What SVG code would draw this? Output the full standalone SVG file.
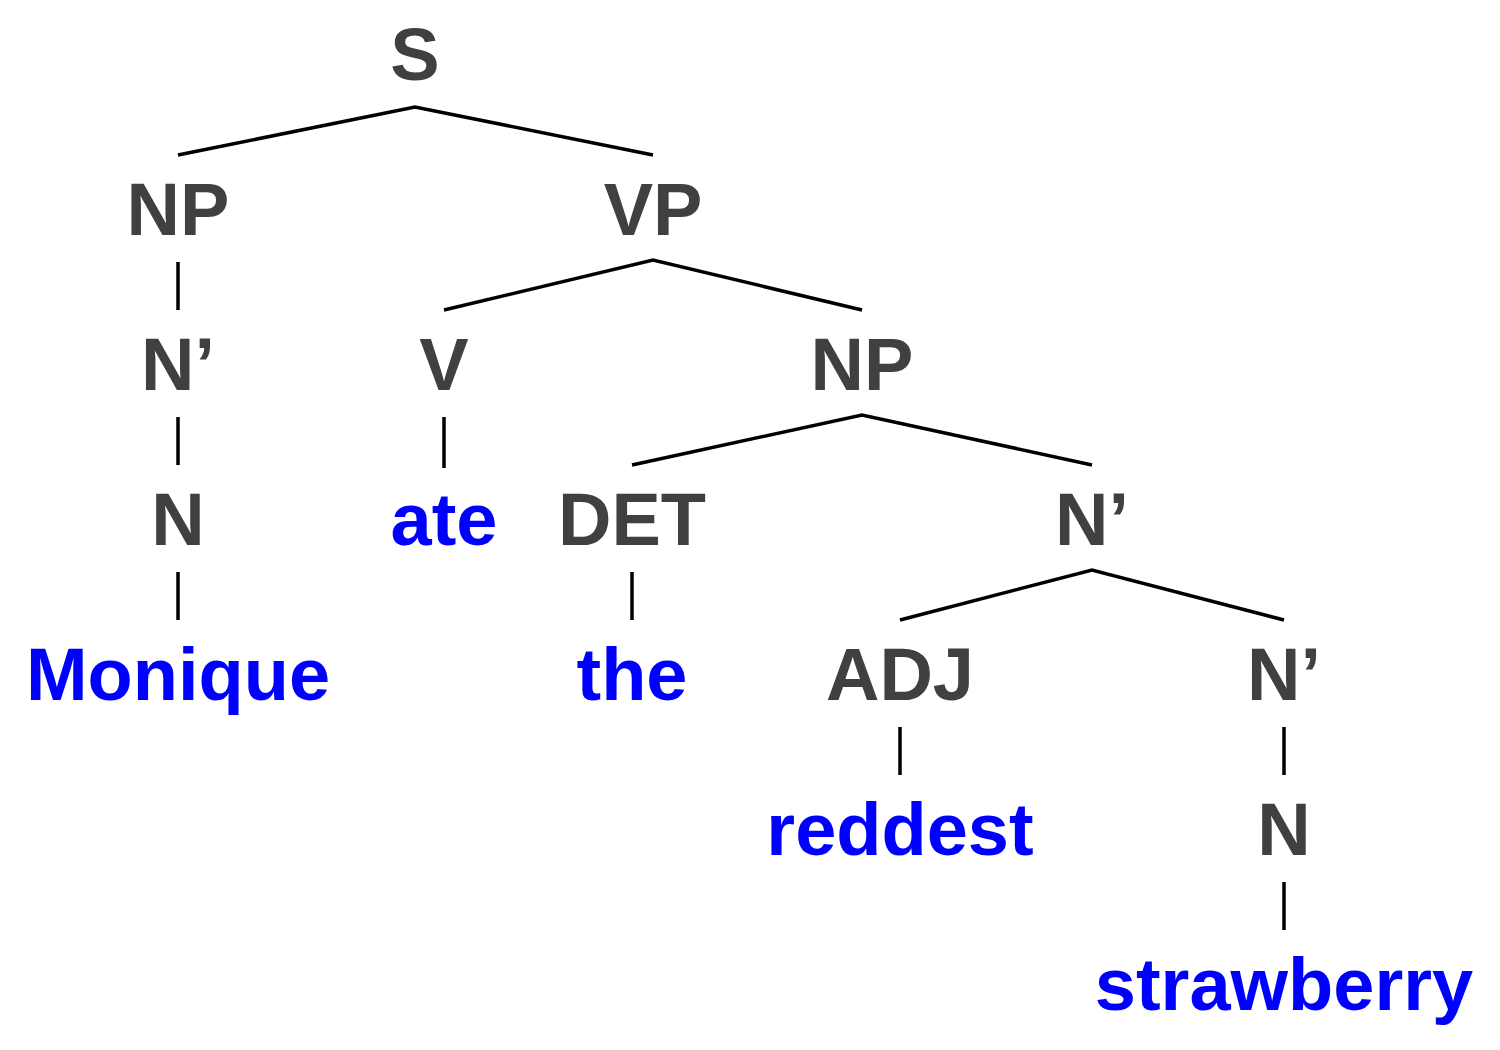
<svg xmlns="http://www.w3.org/2000/svg" width="1500" height="1050" viewBox="0 0 1500 1050">
<style>
.cat{font-family:"Liberation Sans",Arial,sans-serif;font-weight:bold;font-size:74px;fill:#404040;text-anchor:middle}
.word{font-family:"Liberation Sans",Arial,sans-serif;font-weight:bold;font-size:74px;fill:#0000ff;text-anchor:middle}
.edge{stroke:#000;stroke-width:3.5;fill:none;stroke-linecap:butt}
</style>
<rect width="1500" height="1050" fill="#fff"/>
<g id="connectors">
<polyline class="edge" points="178,155 415,107 653,155"/>
<line class="edge" x1="178" y1="262" x2="178" y2="310"/>
<polyline class="edge" points="444,310 653,260 862,310"/>
<line class="edge" x1="178" y1="417" x2="178" y2="465"/>
<line class="edge" x1="444" y1="417" x2="444" y2="468"/>
<polyline class="edge" points="632,465 862,415 1092,465"/>
<line class="edge" x1="178" y1="572" x2="178" y2="620"/>
<line class="edge" x1="632" y1="572" x2="632" y2="620"/>
<polyline class="edge" points="900,620 1092,570 1284,620"/>
<line class="edge" x1="900" y1="727" x2="900" y2="775"/>
<line class="edge" x1="1284" y1="727" x2="1284" y2="775"/>
<line class="edge" x1="1284" y1="882" x2="1284" y2="930"/>
</g>
<g id="S"><text class="cat" x="415" y="80">S</text></g>
<g id="NP1"><text class="cat" x="178" y="235">NP</text></g>
<g id="VP"><text class="cat" x="653" y="235">VP</text></g>
<g id="Nbar1"><text class="cat" x="178" y="390">N’</text></g>
<g id="V"><text class="cat" x="444" y="390">V</text></g>
<g id="NP2"><text class="cat" x="862" y="390">NP</text></g>
<g id="N1"><text class="cat" x="178" y="545">N</text></g>
<g id="ate"><text class="word" x="444" y="545">ate</text></g>
<g id="DET"><text class="cat" x="632" y="545">DET</text></g>
<g id="Nbar2"><text class="cat" x="1092" y="545">N’</text></g>
<g id="Monique"><text class="word" x="178" y="700">Monique</text></g>
<g id="the"><text class="word" x="632" y="700">the</text></g>
<g id="ADJ"><text class="cat" x="900" y="700">ADJ</text></g>
<g id="Nbar3"><text class="cat" x="1284" y="700">N’</text></g>
<g id="reddest"><text class="word" x="900" y="855">reddest</text></g>
<g id="N2"><text class="cat" x="1284" y="855">N</text></g>
<g id="strawberry"><text class="word" x="1284" y="1010">strawberry</text></g>
</svg>
